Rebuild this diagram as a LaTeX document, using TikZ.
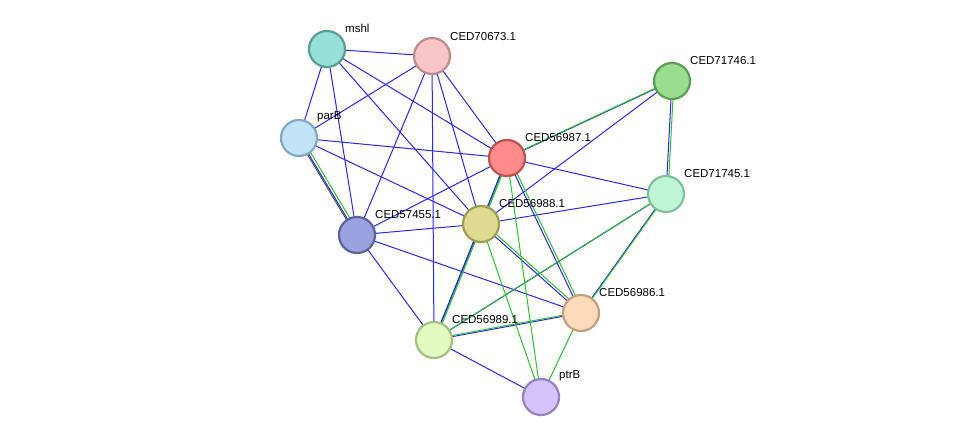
\documentclass[tikz,border=0pt]{standalone}
\usepackage{fontspec}
\setmainfont{Liberation Sans}
\begin{document}
\begin{tikzpicture}[x=1pt,y=-1pt,
  prot/.style={circle,minimum size=36pt,inner sep=0pt,line width=2.2pt},
  lab/.style={font=\fontsize{11.5}{13}\selectfont,anchor=south west,inner sep=1pt},
  be/.style={draw={rgb,255:red,40;green,40;blue,240},line width=1pt},
  ge/.style={draw={rgb,255:red,50;green,190;blue,50},line width=1pt,transform canvas={shift={(2pt,1.5pt)}}},
  ke/.style={draw=black!70,line width=1pt,transform canvas={shift={(-2pt,1pt)}}}]
\useasboundingbox (0,0) rectangle (975,442);
\fill[white] (0,0) rectangle (975,442);
\coordinate (mshl) at (327,49);
\coordinate (c70673) at (432,56);
\coordinate (c71746) at (672,81);
\coordinate (parB) at (299,138);
\coordinate (c56987) at (507,158);
\coordinate (c71745) at (666,194);
\coordinate (c57455) at (357,235);
\coordinate (c56988) at (481,224);
\coordinate (c56986) at (581,313);
\coordinate (c56989) at (434,340);
\coordinate (ptrB) at (541,397);
\foreach \a/\b in {mshl/c70673,mshl/parB,mshl/c56987,mshl/c56988,mshl/c57455,
 c70673/parB,c70673/c56987,c70673/c56988,c70673/c57455,c70673/c56989,
 parB/c56987,parB/c56988,c56987/c71745,c56987/c57455,c71746/c56988,
 c57455/c56988,c56988/c71745,c57455/c56986,c57455/c56989,c56989/ptrB}
  \draw[be] (\a) -- (\b);
\foreach \a/\b in {parB/c57455,c56987/c71746,c56987/c56988,c56987/c56989,c56987/c56986,
 c71746/c71745,c71745/c56989,c71745/c56986,c56988/c56986,c56988/c56989,c56989/c56986}
  {\draw[be] (\a) -- (\b); \draw[ge] (\a) -- (\b);}
\draw[ke] (parB) -- (c57455);
\foreach \a/\b in {c56987/ptrB,c56988/ptrB,c56986/ptrB}
  \draw[draw={rgb,255:red,50;green,190;blue,50},line width=1pt] (\a) -- (\b);
\node[prot,fill={rgb,255:red,151;green,224;blue,216},draw={rgb,255:red,90;green,158;blue,150}] (nmshl) at (mshl) {};
\node[prot,fill={rgb,255:red,245;green,198;blue,198},draw={rgb,255:red,192;green,138;blue,138}] (n70673) at (c70673) {};
\node[prot,fill={rgb,255:red,153;green,221;blue,143},draw={rgb,255:red,91;green,159;blue,82}] (n71746) at (c71746) {};
\node[prot,fill={rgb,255:red,193;green,228;blue,249},draw={rgb,255:red,131;green,169;blue,196}] (nparB) at (parB) {};
\node[prot,fill={rgb,255:red,255;green,140;blue,140},draw={rgb,255:red,192;green,80;blue,80}] (n56987) at (c56987) {};
\node[prot,fill={rgb,255:red,192;green,245;blue,216},draw={rgb,255:red,128;green,192;blue,154}] (n71745) at (c71745) {};
\node[prot,fill={rgb,255:red,154;green,163;blue,224},draw={rgb,255:red,90;green,99;blue,158}] (n57455) at (c57455) {};
\node[prot,fill={rgb,255:red,220;green,219;blue,144},draw={rgb,255:red,158;green,157;blue,85}] (n56988) at (c56988) {};
\node[prot,fill={rgb,255:red,253;green,219;blue,184},draw={rgb,255:red,196;green,160;blue,128}] (n56986) at (c56986) {};
\node[prot,fill={rgb,255:red,226;green,251;blue,192},draw={rgb,255:red,163;green,190;blue,128}] (n56989) at (c56989) {};
\node[prot,fill={rgb,255:red,212;green,195;blue,248},draw={rgb,255:red,150;green,130;blue,192}] (nptrB) at (ptrB) {};
\node[lab] (lmshl) at (344,34) {mshl};
\node[lab] (l70673) at (449,42) {CED70673.1};
\node[lab] (l71746) at (689,66) {CED71746.1};
\node[lab] (lparB) at (316,123) {parB};
\node[lab] (l56987) at (524,143) {CED56987.1};
\node[lab] (l71745) at (683,179) {CED71745.1};
\node[lab] (l57455) at (374,220) {CED57455.1};
\node[lab] (l56988) at (498,209) {CED56988.1};
\node[lab] (l56986) at (598,298) {CED56986.1};
\node[lab] (l56989) at (451,325) {CED56989.1};
\node[lab] (lptrB) at (558,382) {ptrB};
\end{tikzpicture}
\end{document}
